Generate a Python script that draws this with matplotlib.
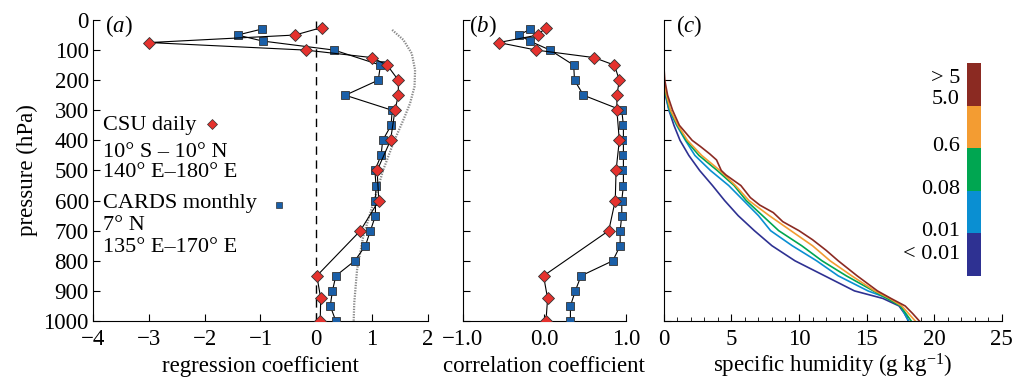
import numpy as np
import matplotlib
matplotlib.use("Agg")
import matplotlib.pyplot as plt
from matplotlib.colors import ListedColormap, BoundaryNorm
import matplotlib as mpl

plt.rcParams['font.family'] = ['Liberation Serif', 'DejaVu Serif']
plt.rcParams['mathtext.fontset'] = 'custom'
plt.rcParams['mathtext.rm'] = 'Liberation Serif'
plt.rcParams['mathtext.it'] = 'Liberation Serif:italic'
plt.rcParams['font.size'] = 16.5

# ---- panel (a): regression coefficient ----
csu_p = [25, 50, 75, 100, 125, 150, 200, 250, 300, 400, 500, 600, 700, 850, 925, 1000]
csu_reg = [0.1, -0.38, -2.99, -0.19, 1.0, 1.27, 1.47, 1.47, 1.41, 1.33, 1.09, 1.12, 0.79, 0.01, 0.08, 0.07]
cards_p = [30, 50, 70, 100, 150, 200, 250, 300, 350, 400, 450, 500, 550, 600, 650, 700, 750, 800, 850, 900, 950, 1000]
cards_reg = [-0.97, -1.41, -0.96, 0.32, 1.15, 1.11, 0.52, 1.36, 1.34, 1.19, 1.16, 1.05, 1.07, 1.06, 1.06, 0.97,
             0.88, 0.69, 0.35, 0.29, 0.25, 0.35]
ref_p = [33, 66, 111, 166, 221, 277, 332, 409, 498, 609, 720, 831, 941, 1000]
ref_reg = [1.36, 1.56, 1.71, 1.77, 1.76, 1.68, 1.56, 1.38, 1.20, 1.02, 0.84, 0.73, 0.68, 0.67]

# ---- panel (b): correlation coefficient ----
csu_cor = [0.02, -0.08, -0.56, -0.10, 0.61, 0.86, 0.92, 0.89, 0.89, 0.92, 0.88, 0.87, 0.79, -0.01, 0.04, 0.02]
cards_cor = [-0.17, -0.31, -0.18, 0.07, 0.36, 0.37, 0.48, 0.95, 0.97, 0.97, 0.97, 0.97, 0.97, 0.95, 0.95, 0.93,
             0.93, 0.84, 0.45, 0.38, 0.32, 0.32]

# ---- panel (c): specific humidity profiles by rain-rate class ----
q_p = [200, 250, 300, 350, 400, 450, 500, 550, 600, 650, 700, 750, 800, 850, 900, 925, 950, 975, 1000]
q_lt001 = [0.0, 0.12, 0.38, 0.75, 1.2, 1.85, 2.65, 3.6, 4.5, 5.5, 6.7, 8.0, 9.7, 11.9, 14.1, 16.2, 17.4, 17.8, 18.1]
q_001 = [0.0, 0.15, 0.4, 0.95, 1.6, 2.3, 3.45, 4.8, 5.9, 7.0, 7.9, 9.5, 11.3, 12.9, 15.1, 16.6, 17.5, 17.8, 18.1]
q_008 = [0.0, 0.17, 0.45, 1.0, 1.65, 2.6, 3.95, 5.2, 6.1, 7.3, 8.5, 10.2, 11.7, 13.5, 15.5, 16.5, 17.5, 17.9, 18.3]
q_06 = [0.03, 0.2, 0.5, 1.05, 1.75, 2.8, 4.15, 5.3, 6.3, 7.8, 9.4, 11.0, 12.3, 13.9, 15.6, 16.7, 17.6, 18.1, 18.6]
q_gt5_p = [50, 150, 200, 250, 300, 350, 400, 420, 445, 465, 480, 500, 515, 550, 590, 615, 640, 670, 700, 730,
           765, 800, 850, 900, 925, 950, 975, 1000]
q_gt5 = [0.0, 0.0, 0.07, 0.28, 0.65, 1.15, 2.1, 2.7, 3.4, 3.9, 4.05, 4.25, 4.6, 5.7, 6.4, 7.1, 8.1, 8.8, 10.0,
         11.0, 12.0, 12.9, 14.3, 15.8, 16.8, 17.85, 18.4, 18.9]
class_labels = ['< 0.01', '0.01', '0.08', '0.6', '5.0', '> 5']
class_colors = ['#2e3192', '#0a8fd2', '#00a651', '#f39c32', '#8b2a22']

red = '#e5322e'
blue = '#1a5fa8'

fig = plt.figure(figsize=(10.15, 3.82), dpi=100)
ax_a = fig.add_axes([0.0916, 0.1597, 0.330, 0.788])
ax_b = fig.add_axes([0.456, 0.1597, 0.1606, 0.788])
ax_c = fig.add_axes([0.654, 0.1597, 0.333, 0.788])

mk_d = dict(marker='D', ms=6.5, mfc=red, mec='#333333', mew=0.6)
mk_s = dict(marker='s', ms=5.8, mfc=blue, mec='#333333', mew=0.6)

# (a)
ax_a.axvline(0, color='black', lw=1, ls=(0, (6, 4)), zorder=1)
ax_a.plot(ref_reg, ref_p, color='#888888', lw=1.6, ls=(0, (0.6, 0.6)), zorder=1)
ax_a.plot(cards_reg, cards_p, color='black', lw=0.8, **mk_s, zorder=3)
ax_a.plot(csu_reg, csu_p, color='black', lw=0.8, **mk_d, zorder=4)
ax_a.set_xlim(-4, 2)
ax_a.set_xticks(range(-4, 3))
ax_a.set_xlabel('regression coefficient', labelpad=4)
ax_a.set_ylabel('pressure (hPa)', labelpad=4)

tx = -3.82
leg_fs = 16
ax_a.text(tx, 349, 'CSU daily', va='center', ha='left', fontsize=leg_fs)
ax_a.plot([-1.87], [346], ls='none', marker='D', ms=5, mfc=red, mec='#333333', mew=0.5)
ax_a.text(tx, 441, '10° S – 10° N', va='center', ha='left', fontsize=leg_fs)
ax_a.text(tx, 506, '140° E–180° E', va='center', ha='left', fontsize=leg_fs)
ax_a.text(tx, 611, 'CARDS monthly', va='center', ha='left', fontsize=leg_fs)
ax_a.plot([-0.66], [616], ls='none', marker='s', ms=4, mfc=blue, mec='#333333', mew=0.5)
ax_a.text(tx, 683, '7° N', va='center', ha='left', fontsize=leg_fs)
ax_a.text(tx, 755, '135° E–170° E', va='center', ha='left', fontsize=leg_fs)

# (b)
ax_b.plot(cards_cor, cards_p, color='black', lw=0.8, **mk_s, zorder=3)
ax_b.plot(csu_cor, csu_p, color='black', lw=0.8, **mk_d, zorder=4)
ax_b.set_xlim(-1, 1)
ax_b.set_xticks([-1, 0, 1])
ax_b.set_xticklabels(['−1.0', '0.0', '1.0'])
ax_b.set_xlabel('correlation coefficient', labelpad=4)

# (c)
profiles = [(q_p, q_lt001), (q_p, q_001), (q_p, q_008), (q_p, q_06), (q_gt5_p, q_gt5)]
for (pp, qq), col in zip(profiles, class_colors):
    ax_c.plot(qq, pp, color=col, lw=1.2)
ax_c.set_xlim(0, 25)
ax_c.set_xticks(range(0, 26, 5))
ax_c.set_xticks(range(0, 26), minor=True)
ax_c.set_xlabel('specific humidity (g kg$^{-1}$)', labelpad=1)

for ax, lab in zip([ax_a, ax_b, ax_c], ['a', 'b', 'c']):
    ax.set_ylim(1000, 0)
    ax.set_yticks(range(0, 1001, 100))
    for s in ['top', 'right']:
        ax.spines[s].set_visible(False)
    ax.tick_params(direction='in', length=5, width=0.8, which='major', pad=6)
    ax.tick_params(direction='in', length=3, width=0.6, which='minor')
    ax.text(0.035, 0.98, '($%s$)' % lab, transform=ax.transAxes, ha='left', va='center')
ax_b.tick_params(labelleft=False)
ax_c.tick_params(labelleft=False)
ax_a.yaxis.set_tick_params(pad=3)

# colour key for rain-rate classes
cax = fig.add_axes([0.9527, 0.2775, 0.0138, 0.5576])
cb = mpl.colorbar.ColorbarBase(cax, cmap=ListedColormap(class_colors),
                               norm=BoundaryNorm(np.arange(6), 5), orientation='vertical')
cb.outline.set_visible(False)
cax.set_yticks([])
cax.tick_params(which='both', length=0, labelright=False)
label_pos = [0.10, 0.208, 0.404, 0.607, 0.828, 0.928]
for lab, yy in zip(class_labels, label_pos):
    cax.text(-0.5, yy, lab, transform=cax.transAxes, ha='right', va='center', fontsize=16)

fig.savefig('out.png', dpi=100)
